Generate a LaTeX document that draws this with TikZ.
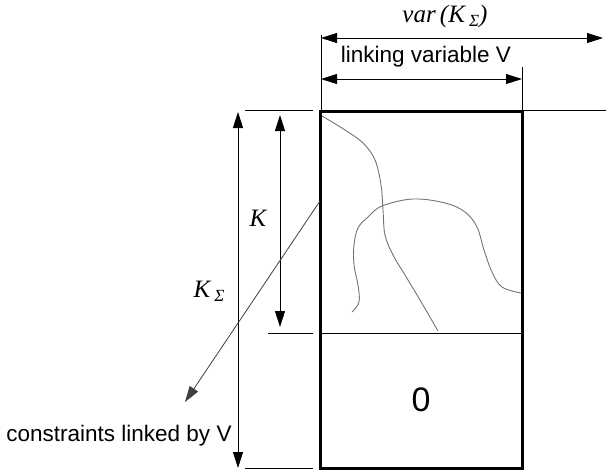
\documentclass[tikz,border=0pt]{standalone}
\usepackage{fontspec}
\setmainfont{Liberation Sans}
\newfontfamily\tms{Liberation Serif}
\usetikzlibrary{arrows.meta}
\tikzset{
  thinline/.style={line width=0.8pt},
  dimarrow/.style={thinline,{Triangle[length=16pt,width=10pt]}-{Triangle[length=16pt,width=10pt]}},
  onearrow/.style={thinline,-{Triangle[length=16pt,width=10pt]}},
  curveline/.style={line width=0.9pt,black!55},
  lbl/.style={inner sep=0pt,font=\fontsize{22.5}{27}\selectfont},
  mlbl/.style={inner sep=0pt,font=\tms\itshape\fontsize{25}{30}\selectfont}
}
\begin{document}
\begin{tikzpicture}[x=1pt,y=-1pt]
\useasboundingbox (0,0) rectangle (608,472);
% main box
\coordinate (TL) at (320,111);
\coordinate (BR) at (522,468);
\coordinate (ML) at (320,333);
\coordinate (MR) at (522,333);
\draw[line width=3pt] (TL) rectangle (BR);
\draw[thinline] (ML) -- (MR);
\node[lbl,font=\fontsize{34}{40}\selectfont] (zero) at (421,400) {0};
% top extension lines
\coordinate (e1a) at (321,35);
\coordinate (e2a) at (522,67);
\draw[thinline] (e1a) -- (321,111);
\draw[thinline] (e2a) -- (522,111);
% top dimension arrows
\coordinate (v1) at (321,38);
\coordinate (v2) at (603,38);
\draw[dimarrow] (v1) -- (v2);
\coordinate (w1) at (321,79);
\coordinate (w2) at (522,79);
\draw[dimarrow] (w1) -- (w2);
\node[mlbl] (var) at (445,16) {var\,(K\,\raisebox{-0.35ex}{\fontsize{17}{20}\selectfont Σ})};
\node[lbl] (link) at (426,57) {linking variable V};
% horizontal extension lines
\coordinate (h1) at (245,110);
\coordinate (h1b) at (313,110);
\coordinate (h2) at (522,110);
\coordinate (h2b) at (606,110);
\draw[thinline] (h1) -- (h1b);
\draw[thinline] (h2) -- (h2b);
\coordinate (h3) at (268,333);
\coordinate (h3b) at (313,333);
\draw[thinline] (h3) -- (h3b);
\coordinate (h4) at (245,468);
\coordinate (h4b) at (313,468);
\draw[thinline] (h4) -- (h4b);
% left dimension arrows
\coordinate (ks1) at (238,112);
\coordinate (ks2) at (238,468);
\draw[dimarrow] (ks1) -- (ks2);
\coordinate (k1) at (280,115);
\coordinate (k2) at (280,327);
\draw[dimarrow] (k1) -- (k2);
\node[mlbl] (K) at (258,218) {K};
\node[mlbl] (KS) at (209,291) {K\,\raisebox{-0.35ex}{\fontsize{17}{20}\selectfont Σ}};
% diagonal arrow
\coordinate (d1) at (320,201);
\coordinate (d2) at (185,402);
\draw[onearrow,black!75] (d1) -- (d2);
\node[lbl] (cons) at (119,436) {constraints linked by V};
% curves
\draw[curveline] plot[smooth,tension=0.6] coordinates {(322,116) (345,130) (363,143) (375,160) (381,185) (383,210) (385,235) (393,255) (405,275) (420,300) (438,331)};
\draw[curveline] plot[smooth,tension=0.6] coordinates {(352,312) (359,302) (358,285) (354,265) (354,245) (358,228) (368,217) (382,206) (413,199) (445,203) (465,212) (477,227) (484,250) (492,272) (502,287) (521,293)};
\end{tikzpicture}
\end{document}
